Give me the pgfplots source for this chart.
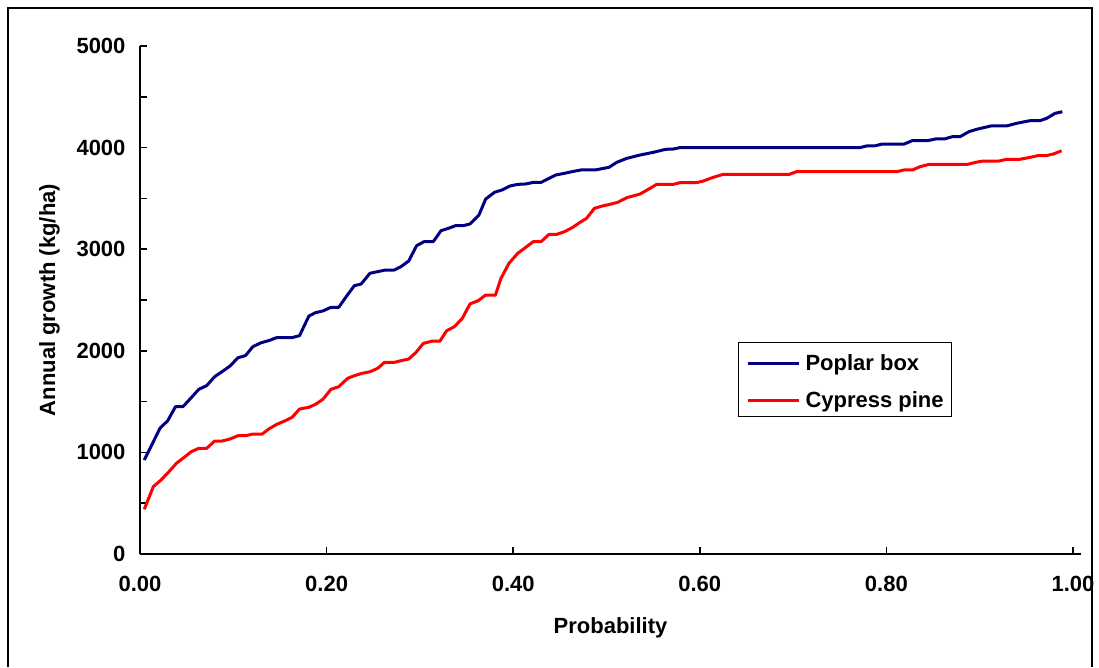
\documentclass[border=0pt]{standalone}
\usepackage{pgfplots}
\pgfplotsset{compat=1.18}
\usepackage{fontspec}
\setmainfont{Liberation Sans}
\definecolor{poplar}{RGB}{0,0,128}
\definecolor{cypress}{RGB}{255,0,0}
\begin{document}
\begin{tikzpicture}[x=1pt,y=1pt,font=\bfseries\fontsize{22}{26}\selectfont]
\useasboundingbox (0,0) rectangle (1099,667);
\draw[line width=1.5pt] (8,0) -- (8,659) -- (1092,659) -- (1092,0);
\begin{axis}[
  at={(140pt,113pt)}, anchor=south west,
  scale only axis, width=941pt, height=508pt,
  xmin=0, xmax=1.0086, ymin=0, ymax=5000,
  axis x line*=bottom, axis y line*=left,
  axis line style={line width=1.5pt, -},
  every tick/.style={black, line width=1.5pt},
  tick align=inside, major tick length=7pt, minor tick length=7pt,
  xtick={0,0.2,0.4,0.6,0.8,1.0},
  xticklabels={0.00,0.20,0.40,0.60,0.80,1.00},
  ytick={0,1000,2000,3000,4000,5000},
  minor ytick={500,1500,2500,3500,4500},
  /pgf/number format/assume math mode=true,
  yticklabel style={/pgf/number format/1000 sep={}, xshift=-11pt},
  xticklabel style={yshift=-19pt},
  ticklabel style={font=\bfseries\fontsize{22}{26}\selectfont},
  xlabel={Probability},
  xlabel style={at={(axis description cs:0.5,-0.157)}, anchor=base},
  ylabel={Annual growth (kg/ha)},
  ylabel style={at={(axis description cs:-0.0903,0.5)}, anchor=base, rotate=0},
  label style={font=\bfseries\fontsize{22}{26}\selectfont},
  legend cell align=left,
  legend style={at={(axis description cs:0.6355,0.4173)}, anchor=north west,
    draw=black, line width=1pt, inner xsep=8pt, inner ysep=4pt,
    row sep=8pt, column sep=5pt,
    nodes={inner sep=0pt, text height=24pt, text depth=5pt},
    font=\bfseries\fontsize{22}{26}\selectfont},
  legend image code/.code={\draw[#1, line width=3pt] (0pt,-2pt) -- (51pt,-2pt);},
  clip=false,
]
\addplot[color=poplar, line width=3pt, line join=round] coordinates {
(0.0046,925) (0.0214,1237) (0.0297,1312) (0.038,1450) (0.046,1450)
(0.055,1539) (0.063,1621) (0.0715,1657) (0.080,1745) (0.088,1795)
(0.0965,1850) (0.105,1932) (0.113,1952) (0.121,2041) (0.130,2080)
(0.138,2100) (0.1465,2130) (0.163,2130) (0.171,2149) (0.181,2342)
(0.188,2375) (0.196,2392) (0.2047,2428) (0.213,2428) (0.2215,2539)
(0.2297,2641) (0.237,2657) (0.2465,2763) (0.2547,2779) (0.263,2795)
(0.2726,2795) (0.2797,2828) (0.288,2884) (0.2965,3035) (0.3047,3075)
(0.3144,3075) (0.3226,3182) (0.3305,3205) (0.3383,3232) (0.3465,3232)
(0.3537,3248) (0.3633,3337) (0.3705,3494) (0.380,3560) (0.388,3583)
(0.3966,3622) (0.4048,3638) (0.4134,3642) (0.4216,3658) (0.430,3658)
(0.4455,3730) (0.455,3747) (0.463,3763) (0.4727,3780) (0.488,3780)
(0.5027,3806) (0.511,3855) (0.5217,3894) (0.536,3927) (0.550,3953)
(0.5633,3983) (0.5715,3986) (0.5788,4000) (0.7717,4000) (0.7788,4016)
(0.787,4016) (0.7956,4035) (0.819,4035) (0.8277,4068) (0.844,4068)
(0.8527,4085) (0.862,4085) (0.8706,4107) (0.8789,4107) (0.8885,4157)
(0.8967,4180) (0.912,4213) (0.9289,4213) (0.9395,4239) (0.954,4265)
(0.9646,4265) (0.9718,4288) (0.9807,4337) (0.9886,4353)
};
\addlegendentry{Poplar box}
\addplot[color=cypress, line width=3pt, line join=round] coordinates {
(0.0046,440) (0.0143,663) (0.0225,728) (0.031,810) (0.039,892)
(0.046,942) (0.055,1007) (0.063,1040) (0.0715,1040) (0.080,1112)
(0.088,1112) (0.0965,1132) (0.105,1164) (0.113,1164) (0.121,1181)
(0.131,1181) (0.138,1230) (0.1465,1276) (0.155,1309) (0.163,1345)
(0.171,1427) (0.181,1444) (0.188,1473) (0.196,1522) (0.2047,1621)
(0.213,1647) (0.2226,1729) (0.2297,1755) (0.238,1778) (0.2465,1794)
(0.2547,1827) (0.262,1886) (0.2726,1886) (0.280,1903) (0.288,1919)
(0.2955,1981) (0.3037,2073) (0.3133,2096) (0.3215,2096) (0.3287,2198)
(0.3369,2237) (0.3455,2320) (0.3537,2461) (0.3626,2494) (0.3705,2549)
(0.381,2549) (0.3869,2713) (0.3955,2861) (0.4048,2959) (0.4134,3018)
(0.4216,3075) (0.430,3075) (0.4384,3146) (0.4466,3146) (0.4548,3172)
(0.4633,3212) (0.4716,3264) (0.4787,3304) (0.487,3402) (0.4955,3425)
(0.5038,3442) (0.512,3461) (0.5217,3507) (0.536,3543) (0.5455,3593)
(0.5538,3638) (0.5715,3638) (0.5788,3655) (0.5966,3655) (0.6037,3671)
(0.6134,3704) (0.625,3737) (0.696,3737) (0.7037,3763) (0.811,3763)
(0.819,3780) (0.828,3780) (0.836,3812) (0.8457,3835) (0.887,3835)
(0.8956,3855) (0.9038,3868) (0.9207,3868) (0.929,3885) (0.943,3885)
(0.954,3904) (0.962,3920) (0.9707,3920) (0.979,3937) (0.9878,3969)
};
\addlegendentry{Cypress pine}
\end{axis}
\end{tikzpicture}
\end{document}
